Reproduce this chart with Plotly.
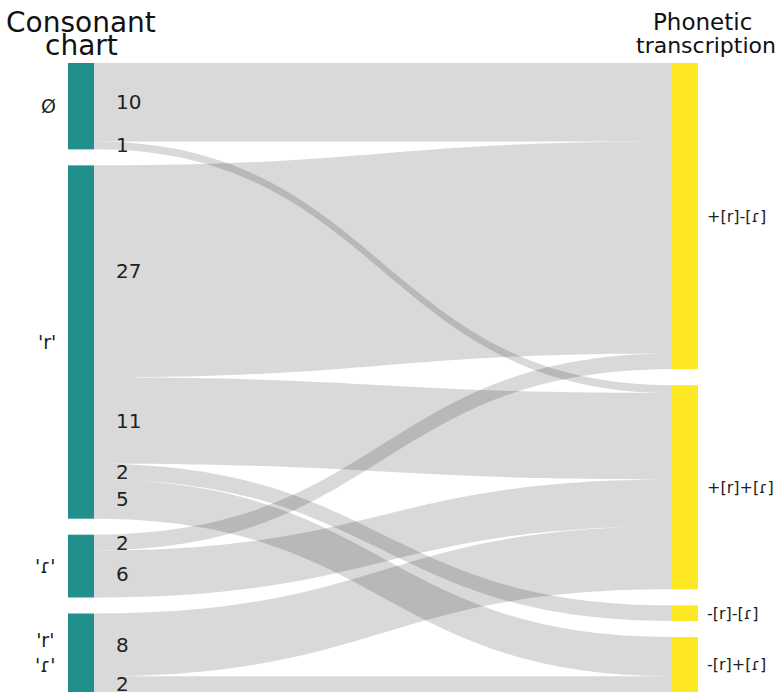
import plotly.graph_objects as go

# left column: consonant chart, right column: phonetic transcription
left_nodes = ["Ø", "'r'", "'ɾ'", "'r'<br>'ɾ'"]
right_nodes = ["+[r]-[ɾ]", "+[r]+[ɾ]", "-[r]-[ɾ]", "-[r]+[ɾ]"]

# links (index into left_nodes -> index into right_nodes)
link_source = [0, 0, 1, 1, 1, 1, 2, 2, 3, 3]
link_target = [0, 1, 0, 1, 2, 3, 0, 1, 1, 3]
link_value = [10, 1, 27, 11, 2, 5, 2, 6, 8, 2]

W, H = 775, 694
dom_x = (68, 698)     # px
dom_y = (63, 692)     # px from top
thick = 26
pad = 16

dom_w = dom_x[1] - dom_x[0]
dom_h = dom_y[1] - dom_y[0]

left_tot = [sum(v for s, v in zip(link_source, link_value) if s == i) for i in range(len(left_nodes))]
right_tot = [sum(v for t, v in zip(link_target, link_value) if t == i) for i in range(len(right_nodes))]
k = (dom_h - pad * (len(left_nodes) - 1)) / sum(link_value)

def tops(tots):
    out, y = [], 0
    for t in tots:
        out.append(y)
        y += t * k + pad
    return out

lt = tops(left_tot)
rt = tops(right_tot)
node_y = [(t + v * k / 2) / dom_h for t, v in zip(lt, left_tot)] + \
         [(t + v * k / 2) / dom_h for t, v in zip(rt, right_tot)]
node_x = [thick / 2 / dom_w] * len(left_nodes) + [1 - thick / 2 / dom_w] * len(right_nodes)
n_left = len(left_nodes)

fig = go.Figure(go.Sankey(
    arrangement="fixed",
    domain=dict(x=[dom_x[0] / W, dom_x[1] / W], y=[1 - dom_y[1] / H, 1 - dom_y[0] / H]),
    node=dict(
        label=[""] * (len(left_nodes) + len(right_nodes)),
        customdata=[l.replace("<br>", " ") for l in left_nodes + right_nodes],
        hovertemplate="%{customdata}: %{value}<extra></extra>",
        x=node_x, y=node_y,
        pad=pad, thickness=thick,
        color=["#21908d"] * len(left_nodes) + ["#fde725"] * len(right_nodes),
        line=dict(width=0),
    ),
    link=dict(
        source=link_source,
        target=[t + n_left for t in link_target],
        value=link_value,
        color="rgba(0,0,0,0.15)",
    ),
))

font = "DejaVu Sans"
ann = []

def py(p):
    return 1 - p / H

# node labels
for name, top, tot in zip(left_nodes, lt, left_tot):
    cy = dom_y[0] + top + tot * k / 2
    ann.append(dict(x=(dom_x[0] - 10) / W, y=py(cy), text=name, showarrow=False,
                    xanchor="right", yanchor="middle", font=dict(family=font, size=19, color="#222")))
for name, top, tot in zip(right_nodes, rt, right_tot):
    cy = dom_y[0] + top + tot * k / 2
    ann.append(dict(x=(dom_x[1] + 7) / W, y=py(cy), text=name, showarrow=False,
                    xanchor="left", yanchor="middle", font=dict(family=font, size=16, color="#222")))

# value labels at the source side of each link
offs = list(lt)
for s, v in zip(link_source, link_value):
    cy = dom_y[0] + offs[s] + v * k / 2
    offs[s] += v * k
    ann.append(dict(x=114 / W, y=py(cy), text=str(v), showarrow=False,
                    xanchor="left", yanchor="middle", font=dict(family=font, size=20, color="#222")))

# column titles
titles = [("Consonant", 81, 22, 28), ("chart", 81, 45, 28),
          ("Phonetic", 702, 22, 23), ("transcription", 706, 45, 22)]
for txt, x, y, sz in titles:
    ann.append(dict(x=x / W, y=py(y), text=txt, showarrow=False,
                    xanchor="center", yanchor="middle", font=dict(family=font, size=sz, color="#111")))

fig.update_layout(
    width=W, height=H,
    margin=dict(l=0, r=0, t=0, b=0),
    paper_bgcolor="white",
    annotations=ann,
    font=dict(family=font),
)

fig.write_html("out.html", config={"displayModeBar": False},
               post_script="document.body.style.margin='0';")
